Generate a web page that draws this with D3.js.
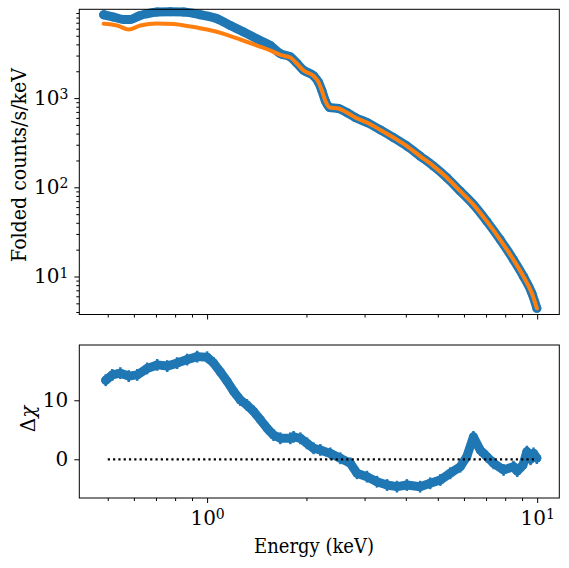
<!DOCTYPE html>
<html>
<head>
<meta charset="utf-8">
<script src="https://d3js.org/d3.v7.min.js"></script>
<style>
body { margin: 0; background: #fff; }
</style>
</head>
<body>
<script>
// folded spectrum (blue points)
var dataE = [0.486, 0.521, 0.559, 0.586, 0.621, 0.658, 0.706, 0.774, 0.849, 0.954, 1.072, 1.176, 1.291, 1.417, 1.555,
  1.667, 1.787, 1.873, 1.961, 2.102, 2.177, 2.228, 2.281, 2.35, 2.50, 2.65, 2.81, 3.05, 3.35, 3.67, 4.03, 4.42,
  4.85, 5.33, 5.85, 6.41, 7.04, 7.73, 8.48, 9.09, 9.64, 9.98];
var dataC = [8600, 8110, 7620, 7620, 8320, 8830, 9230, 9300, 9230, 8600, 7760, 6520, 5500, 4610, 3880,
  3150, 2900, 2450, 2050, 1780, 1500, 1210, 932, 785, 765, 690, 607, 532, 440, 361, 290, 224,
  173, 128, 90.4, 64, 41.5, 25.8, 15.4, 10, 6.49, 4.40];

// model (orange line)
var modelE = [0.486, 0.534, 0.579, 0.628, 0.706, 0.792, 0.890, 1.0, 1.123, 1.261, 1.417, 1.59, 1.667, 1.787,
  1.873, 1.961, 2.102, 2.177, 2.228, 2.281, 2.35, 2.50, 2.65, 2.81, 3.05, 3.35, 3.67, 4.03, 4.42,
  4.85, 5.33, 5.85, 6.41, 7.04, 7.73, 8.48, 9.09, 9.64, 9.98];
var modelC = [6810, 6520, 5870, 6520, 6870, 6760, 6350, 5870, 5260, 4540, 3880, 3300, 3050, 2850,
  2430, 2040, 1770, 1500, 1210, 932, 785, 765, 690, 607, 532, 440, 361, 290, 224,
  173, 128, 90.4, 64, 41.5, 25.8, 15.4, 10, 6.49, 4.40];

// residuals
var resE = [0.493, 0.516, 0.546, 0.579, 0.614, 0.658, 0.706, 0.757, 0.811, 0.870, 0.933, 1.0, 1.047, 1.097,
  1.15, 1.204, 1.261, 1.32, 1.384, 1.45, 1.52, 1.59, 1.667, 1.787, 1.828, 1.917, 2.008, 2.102, 2.203,
  2.362, 2.533, 2.716, 2.845, 3.05, 3.27, 3.51, 3.76, 4.03, 4.42, 4.74, 5.09, 5.45, 5.85, 6.12, 6.41,
  6.72, 7.04, 7.38, 7.91, 8.48, 8.7, 9.05, 9.31, 9.55, 9.75, 9.98];
var resD = [13.4, 14.3, 14.6, 14.1, 14.3, 15.4, 16.0, 15.8, 16.3, 16.9, 17.4, 17.3, 16.3, 14.8,
  13.2, 11.5, 10.05, 9.2, 8.1, 6.7, 5.25, 4.1, 3.56, 3.56, 3.8, 3.56, 2.7, 1.86, 1.58,
  1.0, 0.17, -0.68, -2.37, -2.94, -3.8, -4.36, -4.64, -4.36, -4.64, -4.07, -3.5, -2.37, -1.25, 0.45, 3.8,
  1.58, 0.45, -0.68, -1.8, -1.25, -2.0, -1.0, 1.3, 0.0, 1.0, 0.2];
var resErr = 1;
var zeroE = [0.5, 10];

var xMajor = [1, 10];
var xMinor = [0.5, 0.6, 0.7, 0.8, 0.9, 2, 3, 4, 5, 6, 7, 8, 9];
var yMajor = [10, 100, 1000];
var yMinor = [4, 5, 6, 7, 8, 9, 20, 30, 40, 50, 60, 70, 80, 90, 200, 300, 400, 500, 600, 700, 800, 900,
  2000, 3000, 4000, 5000, 6000, 7000, 8000, 9000];
var rTicks = [0, 10];

var blue = "#1f77b4", orange = "#ff7f0e";
var L = 79.3, R = 559.3;
var top1 = 9.3, bot1 = 314.5, top2 = 345, bot2 = 498;
var serif = "DejaVu Serif";

var svg = d3.select("body").append("svg").attr("width", 569).attr("height", 568);

var x = d3.scaleLog().domain([0.41, 11.67]).range([L, R]);
var y = d3.scaleLog().domain([3.75, 9900]).range([bot1, top1]);
var yr = d3.scaleLinear().domain([-6.56, 19.37]).range([bot2, top2]);

function supLabels(g) {
  g.selectAll(".tick text").each(function(d) {
    var t = d3.select(this);
    t.text("10");
    t.append("tspan").attr("dy", "-0.42em").attr("font-size", "0.7em").text(Math.round(Math.log10(d)));
  });
}
function styleAxis(g) {
  g.attr("font-family", serif).attr("font-size", 20);
  g.select(".domain").remove();
  g.selectAll(".tick line").attr("stroke", "#000").attr("stroke-width", 1);
}

// ---- top panel ----
var lineTop = d3.line().x(function(d) { return x(d[0]); }).y(function(d) { return y(d[1]); }).curve(d3.curveMonotoneX);
var pts = dataE.map(function(e, i) { return [e, dataC[i]]; });
svg.append("path").datum(pts).attr("d", lineTop).attr("fill", "none")
  .attr("stroke", blue).attr("stroke-width", 9).attr("stroke-linejoin", "round").attr("stroke-linecap", "round");
svg.append("g").selectAll("circle").data(pts).enter().append("circle")
  .attr("cx", function(d) { return x(d[0]); }).attr("cy", function(d) { return y(d[1]); })
  .attr("r", 4.5).attr("fill", blue);
var mod = modelE.map(function(e, i) { return [e, modelC[i]]; });
svg.append("path").datum(mod).attr("d", lineTop).attr("fill", "none")
  .attr("stroke", orange).attr("stroke-width", 4).attr("stroke-linejoin", "round").attr("stroke-linecap", "round");

svg.append("g").attr("transform", "translate(0," + bot1 + ")")
  .call(d3.axisBottom(x).tickValues(xMajor).tickSize(5).tickFormat(""))
  .call(styleAxis);
svg.append("g").attr("transform", "translate(0," + bot1 + ")")
  .call(d3.axisBottom(x).tickValues(xMinor).tickSize(3).tickFormat(""))
  .call(styleAxis);
svg.append("g").attr("transform", "translate(" + L + ",0)")
  .call(d3.axisLeft(y).tickValues(yMajor).tickSize(5).tickPadding(6))
  .call(styleAxis).call(supLabels);
svg.append("g").attr("transform", "translate(" + L + ",0)")
  .call(d3.axisLeft(y).tickValues(yMinor).tickSize(3).tickFormat(""))
  .call(styleAxis);
svg.append("rect").attr("x", L).attr("y", top1).attr("width", R - L).attr("height", bot1 - top1)
  .attr("fill", "none").attr("stroke", "#000").attr("stroke-width", 1);

svg.append("text").attr("transform", "translate(26," + 165 + ") rotate(-90)")
  .attr("text-anchor", "middle").attr("font-size", 20).attr("font-family", serif)
  .attr("textLength", 194).attr("lengthAdjust", "spacingAndGlyphs")
  .text("Folded counts/s/keV");

// ---- residual panel ----
var res = resE.map(function(e, i) { return [e, resD[i]]; });
var lineRes = d3.line().x(function(d) { return x(d[0]); }).y(function(d) { return yr(d[1]); });
svg.append("path").datum(res).attr("d", lineRes).attr("fill", "none")
  .attr("stroke", blue).attr("stroke-width", 9).attr("stroke-linejoin", "round").attr("stroke-linecap", "round");
svg.append("g").selectAll("line").data(res).enter().append("line")
  .attr("x1", function(d) { return x(d[0]); }).attr("x2", function(d) { return x(d[0]); })
  .attr("y1", function(d) { return yr(d[1] - resErr); }).attr("y2", function(d) { return yr(d[1] + resErr); })
  .attr("stroke", blue).attr("stroke-width", 2.5);
svg.append("g").selectAll("circle").data(res).enter().append("circle")
  .attr("cx", function(d) { return x(d[0]); }).attr("cy", function(d) { return yr(d[1]); })
  .attr("r", 4.5).attr("fill", blue);

svg.append("line").attr("x1", x(zeroE[0])).attr("x2", x(zeroE[1])).attr("y1", yr(0)).attr("y2", yr(0))
  .attr("stroke", "#000").attr("stroke-width", 2.2).attr("stroke-dasharray", "2.2,3.1");

svg.append("g").attr("transform", "translate(0," + bot2 + ")")
  .call(d3.axisBottom(x).tickValues(xMajor).tickSize(5).tickPadding(8))
  .call(styleAxis).call(supLabels);
svg.append("g").attr("transform", "translate(0," + bot2 + ")")
  .call(d3.axisBottom(x).tickValues(xMinor).tickSize(3).tickFormat(""))
  .call(styleAxis);
svg.append("g").attr("transform", "translate(" + L + ",0)")
  .call(d3.axisLeft(yr).tickValues(rTicks).tickSize(5).tickPadding(6).tickFormat(d3.format("d")))
  .call(styleAxis);
svg.append("rect").attr("x", L).attr("y", top2).attr("width", R - L).attr("height", bot2 - top2)
  .attr("fill", "none").attr("stroke", "#000").attr("stroke-width", 1);

var dl = svg.append("text").attr("transform", "translate(35,419) rotate(-90)")
  .attr("text-anchor", "middle").attr("font-size", 20).attr("font-family", serif);
dl.append("tspan").text("Δ");
dl.append("tspan").attr("font-style", "italic").text("χ");

svg.append("text").attr("x", 314).attr("y", 553).attr("text-anchor", "middle")
  .attr("font-size", 21).attr("font-family", serif).attr("textLength", 120).attr("lengthAdjust", "spacingAndGlyphs")
  .text("Energy (keV)");
</script>
</body>
</html>
